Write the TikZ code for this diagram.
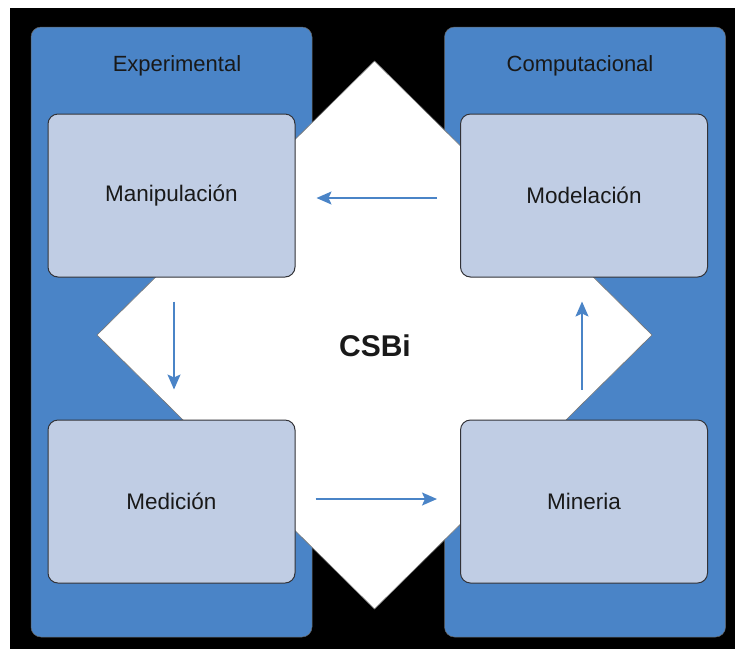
\documentclass[tikz,border=0pt]{standalone}
\usepackage{fontspec}
\setmainfont{Liberation Sans}
\usetikzlibrary{arrows.meta}
\definecolor{panelblue}{RGB}{74,132,199}
\definecolor{boxfill}{RGB}{192,205,228}
\definecolor{boxedge}{RGB}{50,50,55}
\definecolor{arrowblue}{RGB}{74,132,199}
\tikzset{
  panel/.style={rectangle, fill=panelblue, draw=black!60, line width=0.5pt, rounded corners=10pt, inner sep=0pt, minimum width=281pt, minimum height=610pt},
  stagebox/.style={rectangle, fill=boxfill, draw=boxedge, line width=1pt, rounded corners=10pt, inner sep=0pt, minimum width=247pt, minimum height=163pt, font=\fontsize{22.5}{26}\selectfont, text=black!90},
  paneltitle/.style={font=\fontsize{22}{26}\selectfont, text=black!90, inner sep=0pt},
  flow/.style={draw=arrowblue, line width=1.6pt, -{Stealth[length=15pt,width=13pt,inset=3pt]}}
}
\begin{document}
\begin{tikzpicture}[x=1pt,y=-1pt]
\useasboundingbox (0,0) rectangle (735,649);
\fill[white] (0,0) rectangle (735,649);
\fill[black] (10,8) rectangle (735,649);
% panels
\node[panel] (exp) at (171.5,332) {};
\node[panel] (comp) at (585,332) {};
\node[paneltitle] (expt) at (177,66) {Experimental};
\node[paneltitle] (compt) at (580,66) {Computacional};
% diamond
\coordinate (dtop) at (374.5,61);
\coordinate (dright) at (652,335);
\coordinate (dbot) at (374.5,609);
\coordinate (dleft) at (97,335);
\filldraw[fill=white, draw=black!55, line width=0.6pt] (dtop) -- (dright) -- (dbot) -- (dleft) -- cycle;
\node[font=\bfseries\fontsize{30}{34}\selectfont, text=black!90] (csbi) at (375,346) {CSBi};
% stage boxes
\node[stagebox] (man) at (171.5,195.5) {Manipulación};
\node[stagebox] (med) at (171.5,501.5) {Medición};
\node[stagebox] (mod) at (584,195.5) {Modelación};
\node[stagebox] (min) at (584,501.5) {Mineria};
% arrows
\draw[flow] ([shift={(-23,2.5)}]mod.west) -- ([shift={(21,2.5)}]man.east);
\draw[flow] ([shift={(2.5,24)}]man.south) -- ([shift={(2.5,-30)}]med.north);
\draw[flow] ([shift={(20,-2.5)}]med.east) -- ([shift={(-23,-2.5)}]min.west);
\draw[flow] ([shift={(-2,-30)}]min.north) -- ([shift={(-2,24)}]mod.south);
\end{tikzpicture}
\end{document}
